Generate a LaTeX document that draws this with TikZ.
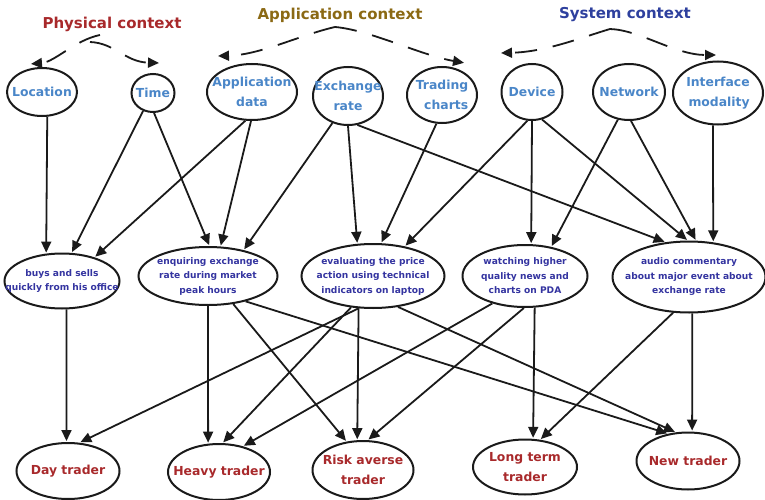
\documentclass[tikz,border=0pt]{standalone}
\usepackage{fontspec}
\setmainfont{DejaVu Sans}
\usetikzlibrary{shapes.geometric,arrows.meta}

\definecolor{physred}{HTML}{A8292B}
\definecolor{appbrown}{HTML}{8B6914}
\definecolor{sysblue}{HTML}{2E409E}
\definecolor{ctxblue}{HTML}{4A86C8}
\definecolor{taskblue}{HTML}{3434A0}
\definecolor{ink}{HTML}{1A1A1A}

\begin{document}
\begin{tikzpicture}[x=1pt,y=-1pt,
	bubble/.style={ellipse,draw=ink,line width=2pt,inner xsep=-80pt,inner ysep=-20pt,align=center},
	ctx/.style={bubble,text=ctxblue,font=\bfseries\fontsize{12.4}{19.5}\selectfont},
	task/.style={bubble,text=taskblue,font=\bfseries\fontsize{9.1}{14.5}\selectfont},
	usr/.style={bubble,text=physred,font=\bfseries\fontsize{12.4}{20}\selectfont},
	head/.style={font=\bfseries\fontsize{15}{18}\selectfont},
	link/.style={draw=ink,line width=1.8pt,-{Triangle[length=11pt,width=10pt]},shorten >=1pt},
	ctxlink/.style={link,dash pattern=on 22pt off 16pt}]
	\useasboundingbox (0,0) rectangle (765,500);

	%headings
	\node[head,text=physred] (phys) at (112,24) {Physical context};
	\node[head,text=appbrown] (app) at (340,15) {Application context};
	\node[head,text=sysblue] (sys) at (625,15) {System context};
	\coordinate (physpeak) at (100,35);
	\coordinate (physmid) at (90,42);
	\coordinate (apppeak) at (335,27);
	\coordinate (syspeak) at (610,29);
	\coordinate (locend) at (30,64);
	\coordinate (timeend) at (160,63);
	\coordinate (appdend) at (217,56);
	\coordinate (chartend) at (465,63);
	\coordinate (devend) at (500,53);
	\coordinate (intfend) at (717,55);

	%context
	\node[ctx,minimum width=70pt,minimum height=48pt] (loc) at (42,92) {Location};
	\node[ctx,minimum width=43pt,minimum height=38pt] (time) at (153,93) {Time};
	\node[ctx,minimum width=90pt,minimum height=56pt] (appd) at (252,92) {Application\\data};
	\node[ctx,minimum width=70pt,minimum height=58pt] (exch) at (348,96) {Exchange\\rate};
	\node[ctx,minimum width=70pt,minimum height=56pt,align=right] (chart) at (442,95) {Trading\\charts};
	\node[ctx,minimum width=61pt,minimum height=56pt] (dev) at (532,92) {Device};
	\node[ctx,minimum width=72pt,minimum height=56pt] (net) at (629,92) {Network};
	\node[ctx,minimum width=90pt,minimum height=63pt,align=right] (intf) at (718,93) {Interface\\modality};

	%tasks
	\node[task,minimum width=115pt,minimum height=55pt] (buys) at (62,281) {buys and sells\\quickly from his office};
	\node[task,minimum width=139pt,minimum height=58pt] (enq) at (208,276) {enquiring exchange\\rate during market\\peak hours};
	\node[task,minimum width=143pt,minimum height=64pt] (eval) at (373,276) {evaluating the price\\action using technical\\indicators on laptop};
	\node[task,minimum width=125pt,minimum height=62pt] (watch) at (525,276) {watching higher\\quality news and\\charts on PDA};
	\node[task,minimum width=153pt,minimum height=71pt] (audio) at (689,277) {audio commentary\\about major event about\\exchange rate};

	%users
	\node[usr,minimum width=103pt,minimum height=56pt] (day) at (68,471) {Day trader};
	\node[usr,minimum width=102pt,minimum height=56pt] (heavy) at (219,472) {Heavy trader};
	\node[usr,minimum width=101pt,minimum height=58pt] (risk) at (363,470) {Risk averse\\trader};
	\node[usr,minimum width=104pt,minimum height=55pt] (long) at (525,467) {Long term\\trader};
	\node[usr,minimum width=103pt,minimum height=57pt] (new) at (688,461) {New trader};

	%dashed context arrows
	\draw[ctxlink] (physpeak) .. controls (75,40) and (55,62) .. (locend);
	\draw[ctxlink] (physmid) .. controls (115,43) and (125,62) .. (timeend);
	\draw[ctxlink] (apppeak) .. controls (300,35) and (260,55) .. (appdend);
	\draw[ctxlink] (apppeak) .. controls (370,30) and (420,55) .. (chartend);
	\draw[ctxlink] (syspeak) .. controls (580,38) and (545,52) .. (devend);
	\draw[ctxlink] (syspeak) .. controls (640,30) and (675,55) .. (intfend);

	%context to tasks
	\draw[link] (loc.282) -- (buys.120);
	\draw[link] (time.241) -- (buys.71);
	\draw[link] (time.273) -- (enq.87);
	\draw[link] (appd.257) -- (buys.36);
	\draw[link] (appd.268) -- (enq.67);
	\draw[link] (exch.240) -- (enq.36);
	\draw[link] (exch.270) -- (eval.116);
	\draw[link] (exch.288) -- (audio.124);
	\draw[link] (chart.259) -- (eval.76);
	\draw[link] (dev.261) -- (eval.43);
	\draw[link] (dev.270) -- (watch.79);
	\draw[link] (dev.290) -- (audio.92);
	\draw[link] (net.248) -- (watch.48);
	\draw[link] (net.274) -- (audio.79);
	\draw[link] (intf.261) -- (audio.55);

	%tasks to users
	\draw[link] (buys.279) -- (day.93);
	\draw[link] (enq.270) -- (heavy.111);
	\draw[link] (enq.312) -- (risk.120);
	\draw[link] (enq.326) -- (new.126);
	\draw[link] (eval.246) -- (day.68);
	\draw[link] (eval.235) -- (heavy.83);
	\draw[link] (eval.246) -- (risk.101);
	\draw[link] (eval.309) -- (new.113);
	\draw[link] (watch.220) -- (heavy.47);
	\draw[link] (watch.268) -- (risk.81);
	\draw[link] (watch.287) -- (long.74);
	\draw[link] (audio.246) -- (long.61);
	\draw[link] (audio.275) -- (new.82);
\end{tikzpicture}
\end{document}
